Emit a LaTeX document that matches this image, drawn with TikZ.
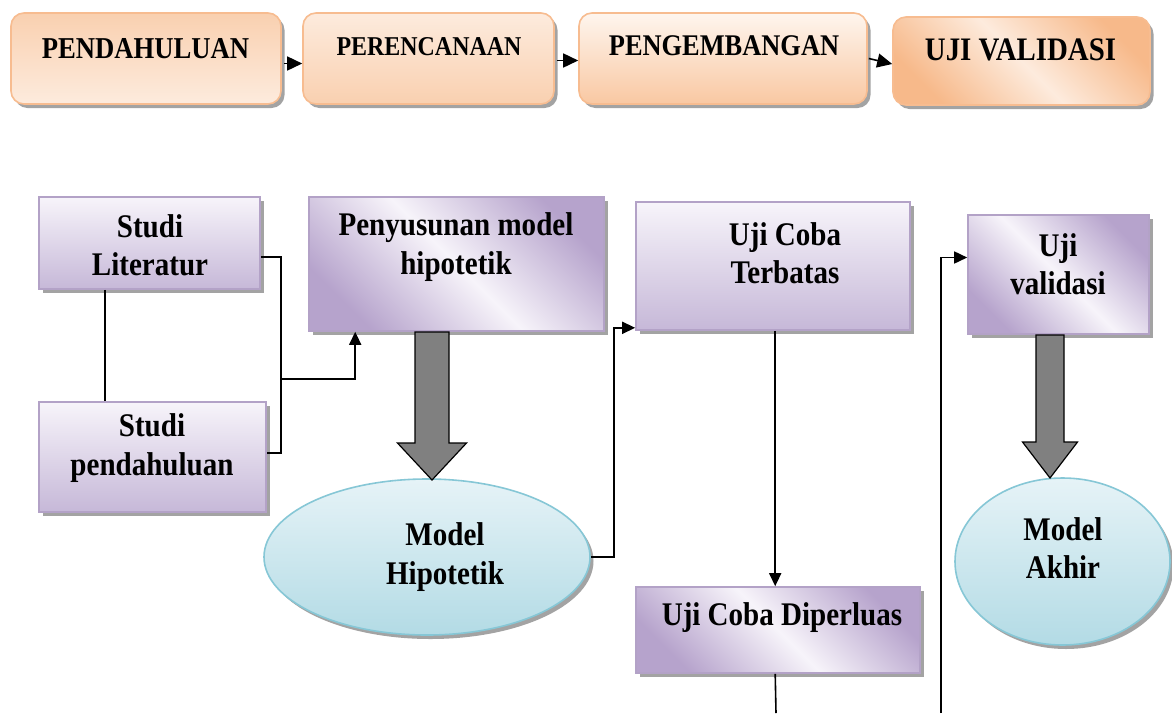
\documentclass[tikz,border=0pt]{standalone}
\usepackage{fontspec}
\setmainfont{Liberation Serif}[FakeStretch=0.88]
\usetikzlibrary{shapes.geometric,shadows,arrows.meta,calc}
\definecolor{pbord}{HTML}{B3A2C7}
\definecolor{plight}{HTML}{F7F4FA}
\definecolor{pdark}{HTML}{C6B8D8}
\definecolor{pdiag}{HTML}{B6A3CC}
\definecolor{obord}{HTML}{F7BC90}
\definecolor{oA}{HTML}{F9D0B0}
\definecolor{oB}{HTML}{FDEBDD}
\definecolor{oC}{HTML}{FEF5EE}
\definecolor{oD}{HTML}{F9C8A2}
\definecolor{oE}{HTML}{F7B98A}
\definecolor{cbord}{HTML}{86C7D6}
\definecolor{cA}{HTML}{E6F3F7}
\definecolor{cB}{HTML}{B3DBE5}
\definecolor{shad}{HTML}{A3A3A3}
\definecolor{garrow}{HTML}{808080}
\newcommand{\mygrayarrow}[6]{%
  \filldraw[bigarr] ({#1-#5},#2) -- ({#1-#5},#3) -- ({#1-#6},#3) -- (#1,#4)
    -- ({#1+#6},#3) -- ({#1+#5},#3) -- ({#1+#5},#2) -- cycle;}
\begin{document}
\begin{tikzpicture}[x=1pt,y=-1pt,
  shd/.style={drop shadow={shadow xshift=3.5pt,shadow yshift=-4pt,fill=shad,opacity=1}},
  topbox/.style={shd, draw=obord, line width=1.6pt, rounded corners=13pt, inner sep=0},
  pbox/.style={shd, draw=pbord, line width=1.6pt, inner sep=0},
  pvert/.style={pbox, top color=plight, bottom color=pdark},
  pdiagbox/.style={pbox, left color=pdiag, right color=pdiag, middle color=plight, shading angle=-45},
  oval/.style={shd, ellipse, draw=cbord, line width=1.6pt, inner sep=0, top color=cA, bottom color=cB},
  txt/.style={align=center, inner sep=0, font=\bfseries\fontsize{33}{38.5}\selectfont},
  conn/.style={line width=1.6pt, black},
  arr/.style={conn, -{Triangle[length=13pt,width=12pt]}},
  tarr/.style={conn, -{Triangle[length=15pt,width=14pt]}},
  bigarr/.style={fill=garrow, draw=black, line width=1.2pt, line join=miter}
]
\fill[white] (0,0) rectangle (1172,713);
\useasboundingbox (0,0) rectangle (1172,713);

% top row
\node[topbox, top color=oA, bottom color=oB, minimum width=270pt, minimum height=91pt] (b1) at (146,58.5) {};
\node[topbox, top color=oB, bottom color=oA, minimum width=251pt, minimum height=91pt] (b2) at (428.5,58.5) {};
\node[topbox, top color=oC, bottom color=oD, minimum width=288pt, minimum height=91pt] (b3) at (723,58.5) {};
\node[topbox, left color=oE, right color=oE, middle color=oB, shading angle=-45, minimum width=257pt, minimum height=88pt] (b4) at (1021.5,61) {};
\node[txt, font=\bfseries\fontsize{30.3}{35}\selectfont] (t1) at (145.5,49) {PENDAHULUAN};
\node[txt, font=\bfseries\fontsize{27.2}{31}\selectfont] (t2) at (429,47) {PERENCANAAN};
\node[txt, font=\bfseries\fontsize{30}{35}\selectfont] (t3) at (724,46) {PENGEMBANGAN};
\node[txt, font=\bfseries\fontsize{32.8}{38}\selectfont] (t4) at (1020.5,50) {UJI VALIDASI};
\draw[tarr] ($(b1.east)+(2,5)$) -- ($(b2.west)+(0,5)$);
\draw[tarr] ($(b2.east)+(2,2)$) -- ($(b3.west)+(0,2)$);
\draw[tarr] ($(b3.east)+(1,0)$) -- ($(b4.west)+(0,3)$);

% bottom boxes
\node[pvert, minimum width=221pt, minimum height=92pt] (lit) at (149.5,243) {};
\node[pvert, minimum width=227pt, minimum height=110pt] (pend) at (152.5,457) {};
\node[pdiagbox, minimum width=295pt, minimum height=134pt] (pen) at (456.5,264) {};
\node[pvert, minimum width=274pt, minimum height=128pt] (ter) at (773,266) {};
\node[pdiagbox, minimum width=284pt, minimum height=86pt] (dip) at (778,630) {};
\node[pdiagbox, minimum width=181pt, minimum height=119pt] (val) at (1058.5,274.5) {};
\node[oval, minimum width=326pt, minimum height=156pt] (mh) at (427,557) {};
\node[oval, minimum width=215pt, minimum height=167pt] (ma) at (1062.5,561.5) {};

\node[txt] (tlit) at (150,245) {Studi\\Literatur};
\node[txt] (tpend) at (152,448) {Studi\\pendahuluan};
\node[txt] (tpen) at (456,247) {Penyusunan model\\hipotetik};
\node[txt] (tter) at (785,253) {Uji Coba\\Terbatas};
\node[txt] (tdip) at (782,618) {Uji Coba Diperluas};
\node[txt] (tval) at (1058,264) {Uji\\validasi};
\node[txt] (tmh) at (445,557) {Model\\Hipotetik};
\node[txt] (tma) at (1063,548) {Model\\Akhir};

% connectors
\draw[conn] ($(lit.south west)+(67,0)$) -- ($(pend.north west)+(67,0)$);
\draw[conn] ($(lit.east)+(0,14)$) -- ++(20,0) coordinate (jtop) |- ($(pend.east)+(0,-4)$);
\coordinate (jb) at ($(jtop)+(0,122)$);
\draw[arr] (jb) -| ($(pen.south west)+(47,0)$);
\draw[arr] (mh.east) -- ++(23,0) |- ($(ter.south west)+(0,-3)$);
\draw[arr] ($(ter.south west)+(140,0)$) -- ($(dip.north west)+(140,0)$);
\coordinate (dipend) at (776,713);
\draw[conn] ($(dip.south west)+(140,0)$) -- (dipend);
\coordinate (vstart) at (941,713);
\draw[arr] (vstart) |- ($(val.west)+(0,-17)$);

% big grey arrows
\mygrayarrow{432}{332}{443}{480}{17}{34.5}
\mygrayarrow{1050}{335}{442}{478}{14}{27.5}
\end{tikzpicture}
\end{document}
